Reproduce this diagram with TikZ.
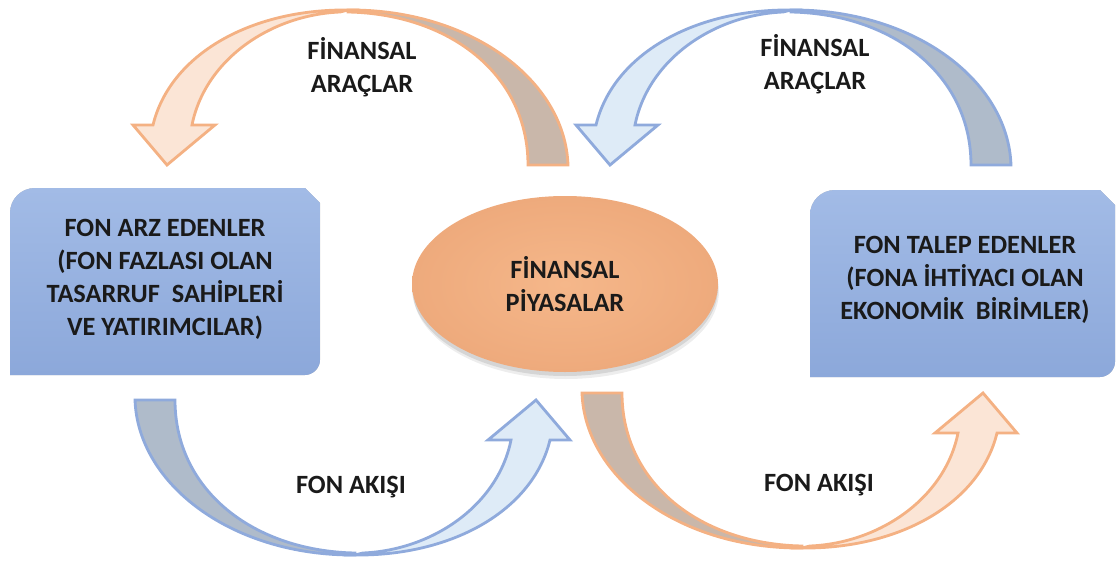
\documentclass[tikz,border=0pt]{standalone}
\usepackage{fontspec}
\setmainfont{Carlito}
\usetikzlibrary{calc,shapes.geometric}
\definecolor{obord}{RGB}{244,177,131}
\definecolor{olight}{RGB}{251,229,214}
\definecolor{odark}{RGB}{201,183,170}
\definecolor{bbord}{RGB}{143,170,220}
\definecolor{blight}{RGB}{222,235,247}
\definecolor{bdark}{RGB}{175,187,202}
\definecolor{boxtop}{RGB}{162,187,230}
\definecolor{boxbot}{RGB}{140,168,218}
\definecolor{ellin}{RGB}{245,183,138}
\definecolor{ellout}{RGB}{238,170,124}
\definecolor{txt}{RGB}{26,26,26}
% curved band arrow, drawn in pixel units (tail right, head left, arching over the top)
\newcommand\curvedband[3]{%
  \draw[band, fill=#2, draw=#1] (348,10) .. controls (470,9) and (565,80) .. (568,165)
     -- (528,165) .. controls (528,75) and (450,14) .. (348,12) -- cycle;
  \draw[band, fill=#3, draw=#1] (348,10) .. controls (250,9) and (170,55) .. (153,125)
     -- (133,125) -- (167,165) -- (215,125) -- (192,125)
     .. controls (205,60) and (270,15) .. (340,12) -- cycle;
}
% box outline between two named corner coordinates (#1 = prefix: #1nw, #1se)
\newcommand\boxpath[1]{%
  (#1nw |- #1se) -- ($(#1nw)+(0,25)$)
    .. controls ($(#1nw)+(0,11)$) and ($(#1nw)+(11,0)$) .. ($(#1nw)+(25,0)$)
    -- ($(#1se |- #1nw)+(-15,0)$) -- ($(#1se |- #1nw)+(0,15)$) -- ($(#1se)+(0,-15)$)
    .. controls ($(#1se)+(0,-7)$) and ($(#1se)+(-7,0)$) .. ($(#1se)+(-15,0)$)
    -- cycle
}
\newcommand\snipbox[1]{%
  \fill[black, opacity=0.07] [shift={(1,6)}] \boxpath{#1};
  \fill[black, opacity=0.10] [shift={(1,4)}] \boxpath{#1};
  \fill[black, opacity=0.12] [shift={(0.5,2)}] \boxpath{#1};
  \path[boxstyle] \boxpath{#1};
}
\begin{document}
\begin{tikzpicture}[x=0.02cm, y=-0.02cm,
  band/.style={line width=1.6pt, line join=miter},
  lbl/.style={font=\bfseries\fontsize{15}{18.8}\selectfont, text=txt, align=center},
  boxstyle/.style={top color=boxtop, bottom color=boxbot, draw=none},
]
\useasboundingbox (0,0) rectangle (1116,561);

% curved arrows
\curvedband{obord}{odark}{olight}
\begin{scope}[shift={(443,0)}]
  \curvedband{bbord}{bdark}{blight}
\end{scope}
\begin{scope}[shift={(703,565)}, rotate=180]
  \curvedband{bbord}{bdark}{blight}
\end{scope}
\begin{scope}[shift={(1150,558)}, rotate=180]
  \curvedband{obord}{odark}{olight}
\end{scope}

% boxes
\coordinate (arznw) at (10,188);
\coordinate (arzse) at (320,375);
\coordinate (talnw) at (810,190);
\coordinate (talse) at (1115,377);
\snipbox{arz}
\snipbox{tal}
\node[lbl] (arz) at (165,279.5)
  {FON ARZ EDENLER\\(FON FAZLASI OLAN\\TASARRUF\ \ SAHİPLERİ\\VE YATIRIMCILAR)};
\node[lbl] (talep) at (965,279.5)
  {FON TALEP EDENLER\\(FONA İHTİYACI OLAN\\EKONOMİK\ \ BİRİMLER)};

% central ellipse (with soft shadow)
\fill[black, opacity=0.07] (566,291) ellipse [x radius=153, y radius=88];
\fill[black, opacity=0.10] (565,288) ellipse [x radius=153, y radius=88];
\node[ellipse, lbl, inner sep=0, minimum width=306*0.02cm, minimum height=176*0.02cm,
      inner color=ellin, outer color=ellout]
  (fin) at (565,284) {FİNANSAL\\PİYASALAR};

% labels
\node[lbl] (fa1) at (362,67) {FİNANSAL\\ARAÇLAR};
\node[lbl] (fa2) at (815,64) {FİNANSAL\\ARAÇLAR};
\node[lbl] (ak1) at (351,487) {FON AKIŞI};
\node[lbl] (ak2) at (819,485) {FON AKIŞI};
\end{tikzpicture}
\end{document}
